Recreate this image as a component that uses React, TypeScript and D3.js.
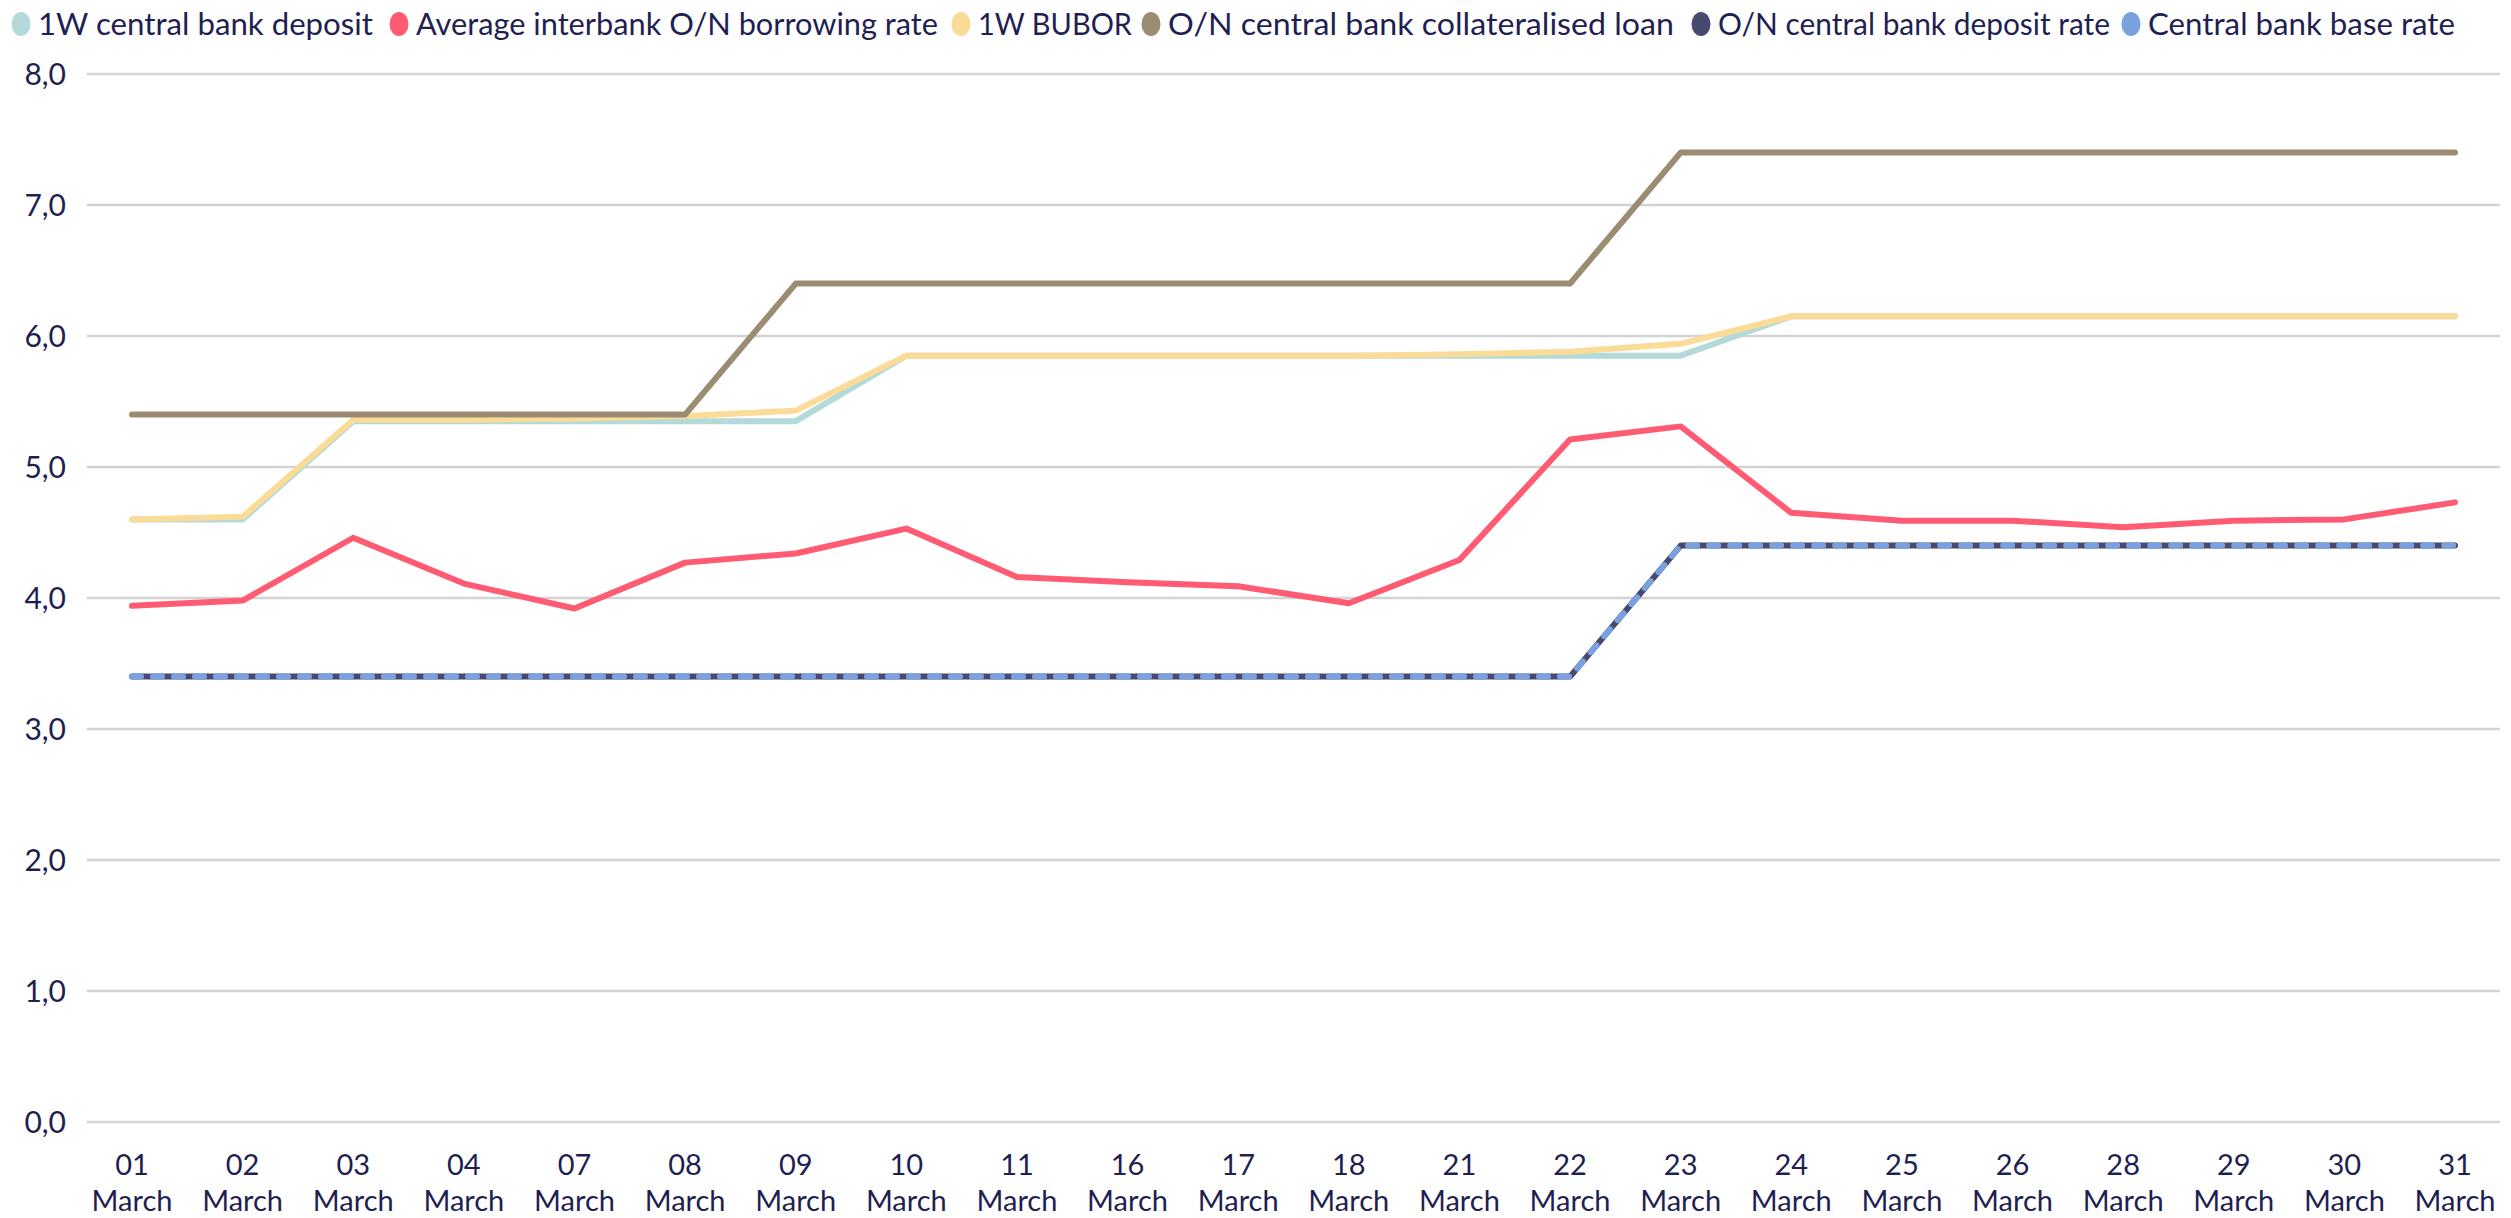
import * as d3 from 'd3';

// Napi kamatok, 2022 március
const categories = ['01', '02', '03', '04', '07', '08', '09', '10', '11', '16', '17', '18', '21', '22', '23', '24', '25', '26', '28', '29', '30', '31'];
const monthLabel = 'March';

const deposit1W = [4.6, 4.6, 5.35, 5.35, 5.35, 5.35, 5.35, 5.85, 5.85, 5.85, 5.85, 5.85, 5.85, 5.85, 5.85, 6.15, 6.15, 6.15, 6.15, 6.15, 6.15, 6.15];
const interbankON = [3.94, 3.98, 4.46, 4.11, 3.92, 4.27, 4.34, 4.53, 4.16, 4.12, 4.09, 3.96, 4.29, 5.21, 5.31, 4.65, 4.59, 4.59, 4.54, 4.59, 4.6, 4.73];
const bubor1W = [4.6, 4.62, 5.36, 5.36, 5.37, 5.39, 5.43, 5.85, 5.85, 5.85, 5.85, 5.85, 5.86, 5.88, 5.94, 6.15, 6.15, 6.15, 6.15, 6.15, 6.15, 6.15];
const collateralLoan = [5.4, 5.4, 5.4, 5.4, 5.4, 5.4, 6.4, 6.4, 6.4, 6.4, 6.4, 6.4, 6.4, 6.4, 7.4, 7.4, 7.4, 7.4, 7.4, 7.4, 7.4, 7.4];
const depositON = [3.4, 3.4, 3.4, 3.4, 3.4, 3.4, 3.4, 3.4, 3.4, 3.4, 3.4, 3.4, 3.4, 3.4, 4.4, 4.4, 4.4, 4.4, 4.4, 4.4, 4.4, 4.4];
const baseRate = [3.4, 3.4, 3.4, 3.4, 3.4, 3.4, 3.4, 3.4, 3.4, 3.4, 3.4, 3.4, 3.4, 3.4, 4.4, 4.4, 4.4, 4.4, 4.4, 4.4, 4.4, 4.4];

const yTicks = [0, 1, 2, 3, 4, 5, 6, 7, 8];

const series = [
  { name: '1W central bank deposit', values: deposit1W, color: '#b3d9d9', dash: null },
  { name: 'Average interbank O/N borrowing rate', values: interbankON, color: '#ff5b73', dash: null },
  { name: '1W BUBOR', values: bubor1W, color: '#fadc98', dash: null },
  { name: 'O/N central bank collateralised loan', values: collateralLoan, color: '#9c8c71', dash: null },
  { name: 'O/N central bank deposit rate', values: depositON, color: '#474a6e', dash: null },
  { name: 'Central bank base rate', values: baseRate, color: '#7aa0e0', dash: '9 12' },
];

// legend layout: marker centre x and text width
const legendX = [21, 399, 961, 1151, 1701, 2131];
const legendW = [335, 522, 154, 506, 392, 307];

const W = 2511;
const H = 1218;
const textColor = '#1f1f52';
const font = 'Lato, sans-serif';

const commaFmt = d3.formatLocale({ decimal: ',', thousands: ' ', grouping: [3], currency: ['', ''] }).format('.1f');

export default function App() {
  const x = d3.scalePoint<string>().domain(categories).range([132, 2455]);
  const y = d3.scaleLinear().domain([0, 8]).range([1122, 74]);

  const line = d3.line<number>()
    .x((_, i) => x(categories[i]) as number)
    .y(d => y(d));

  return (
    <div>
      <style>{'body{margin:0}'}</style>
      <svg width={W} height={H} style={{ display: 'block', background: '#fff' }}>
        {/* gridlines + y labels */}
        {yTicks.map(t => (
          <g key={t}>
            <line x1={87} x2={2500} y1={y(t)} y2={y(t)} stroke="#d3d3d3" strokeWidth={2.5} />
            <text x={66} y={y(t)} dy="0.35em" textAnchor="end" fontFamily={font} fontSize={30} fill={textColor}>
              {commaFmt(t)}
            </text>
          </g>
        ))}

        {/* x labels */}
        {categories.map(c => (
          <text key={c} x={x(c)} textAnchor="middle" fontFamily={font} fontSize={29} fill={textColor}>
            <tspan x={x(c)} y={1175}>{c}</tspan>
            <tspan x={x(c)} y={1211}>{monthLabel}</tspan>
          </text>
        ))}

        {/* lines */}
        {series.map(s => (
          <path
            key={s.name}
            d={line(s.values) || ''}
            fill="none"
            stroke={s.color}
            strokeWidth={6}
            strokeLinecap="round"
            strokeLinejoin="round"
            strokeDasharray={s.dash || undefined}
          />
        ))}

        {/* legend */}
        {series.map((s, i) => (
          <g key={s.name} transform={`translate(${legendX[i]},24)`}>
            <ellipse cx={0} cy={0} rx={9.5} ry={12} fill={s.color} />
            <text
              x={17}
              y={0}
              dy="0.35em"
              fontFamily={font}
              fontSize={31}
              fill={textColor}
              textLength={legendW[i]}
              lengthAdjust="spacingAndGlyphs"
            >
              {s.name}
            </text>
          </g>
        ))}
      </svg>
    </div>
  );
}
